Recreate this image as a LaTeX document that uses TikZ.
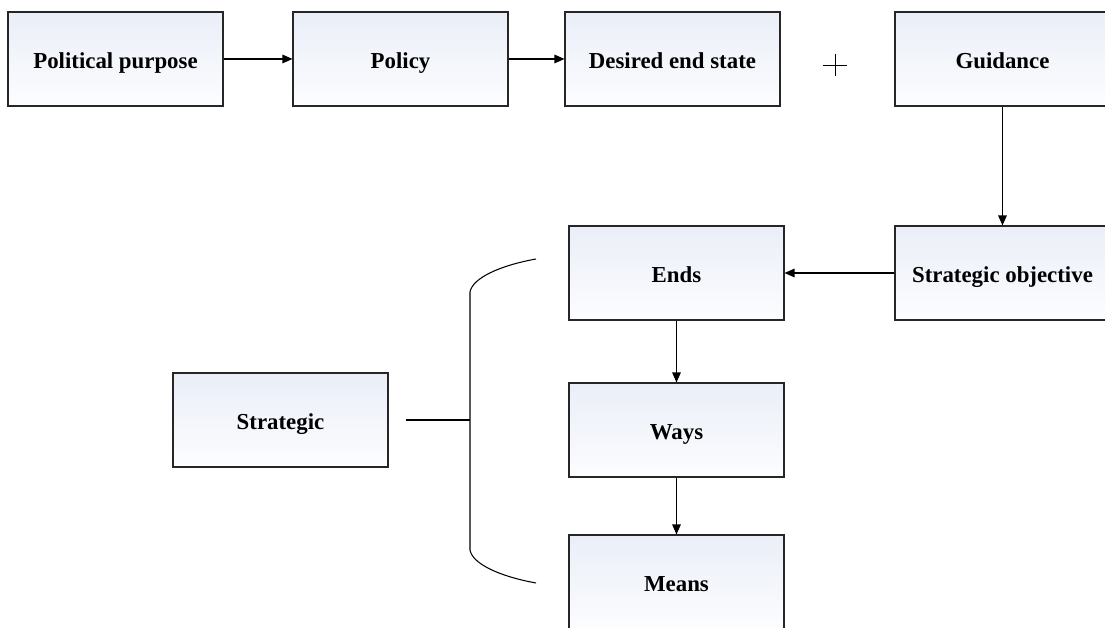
\documentclass[tikz,border=0pt]{standalone}
\usepackage{fontspec}
\setmainfont{Liberation Serif}
\usetikzlibrary{arrows.meta, positioning, calc}
\definecolor{boxtop}{HTML}{EAEEF7}
\definecolor{boxbot}{HTML}{FCFDFF}
\definecolor{edge}{HTML}{262626}

\begin{document}
\begin{tikzpicture}[
    box/.style={rectangle, draw=edge, line width=0.6pt, minimum width=4.3cm, minimum height=1.88cm,
        top color=boxtop, bottom color=boxbot, text height=1.1em, text depth=0.04em,
        font=\fontsize{13}{15}\selectfont\bfseries},
    arrow/.style={-{Triangle[length=0.2cm, width=0.17cm]}, line width=0.7pt},
    link/.style={line width=0.6pt}]

    \useasboundingbox (0,0) rectangle (22.1,12.56);

    % Top row
    \node[box] (purpose) at (2.31,11.38) {Political purpose};
    \node[box] (policy) at (8.01,11.38) {Policy};
    \node[box] (endstate) at (13.45,11.38) {Desired end state};
    \node[box] (guidance) at (20.05,11.38) {Guidance};

    % Plus sign between end state and guidance
    \coordinate (plus) at (16.70,11.26);
    \draw[line width=0.5pt] ($(plus)+(-0.24,0)$) -- ($(plus)+(0.24,0)$);
    \draw[line width=0.5pt] ($(plus)+(0,-0.22)$) -- ($(plus)+(0,0.22)$);

    % Lower part
    \node[box] (objective) at (20.05,7.10) {Strategic objective};
    \node[box] (ends) at (13.53,7.10) {Ends};
    \node[box] (ways) at (13.53,3.96) {Ways};
    \node[box] (means) at (13.53,0.92) {Means};
    \node[box] (strategic) at (5.61,4.16) {Strategic};

    % Arrows
    \draw[arrow] (purpose) -- (policy);
    \draw[arrow] (policy) -- (endstate);
    \draw[arrow] (guidance) -- (objective);
    \draw[arrow] (objective) -- (ends);
    \draw[arrow] (ends) -- (ways);
    \draw[arrow] (ways) -- (means);

    % Bracket grouping ends, ways and means
    \coordinate (brtop) at (10.72,7.38);
    \coordinate (brbot) at (10.72,0.90);
    \coordinate (brmid) at (9.40,4.16);
    \draw[link] (brtop) .. controls (10.0,7.25) and (9.45,7.0) .. (9.40,6.72)
        -- (9.40,1.56) .. controls (9.45,1.28) and (10.0,1.03) .. (brbot);
    \draw[link] ([xshift=0.34cm]strategic.east) -- (brmid);

\end{tikzpicture}
\end{document}
